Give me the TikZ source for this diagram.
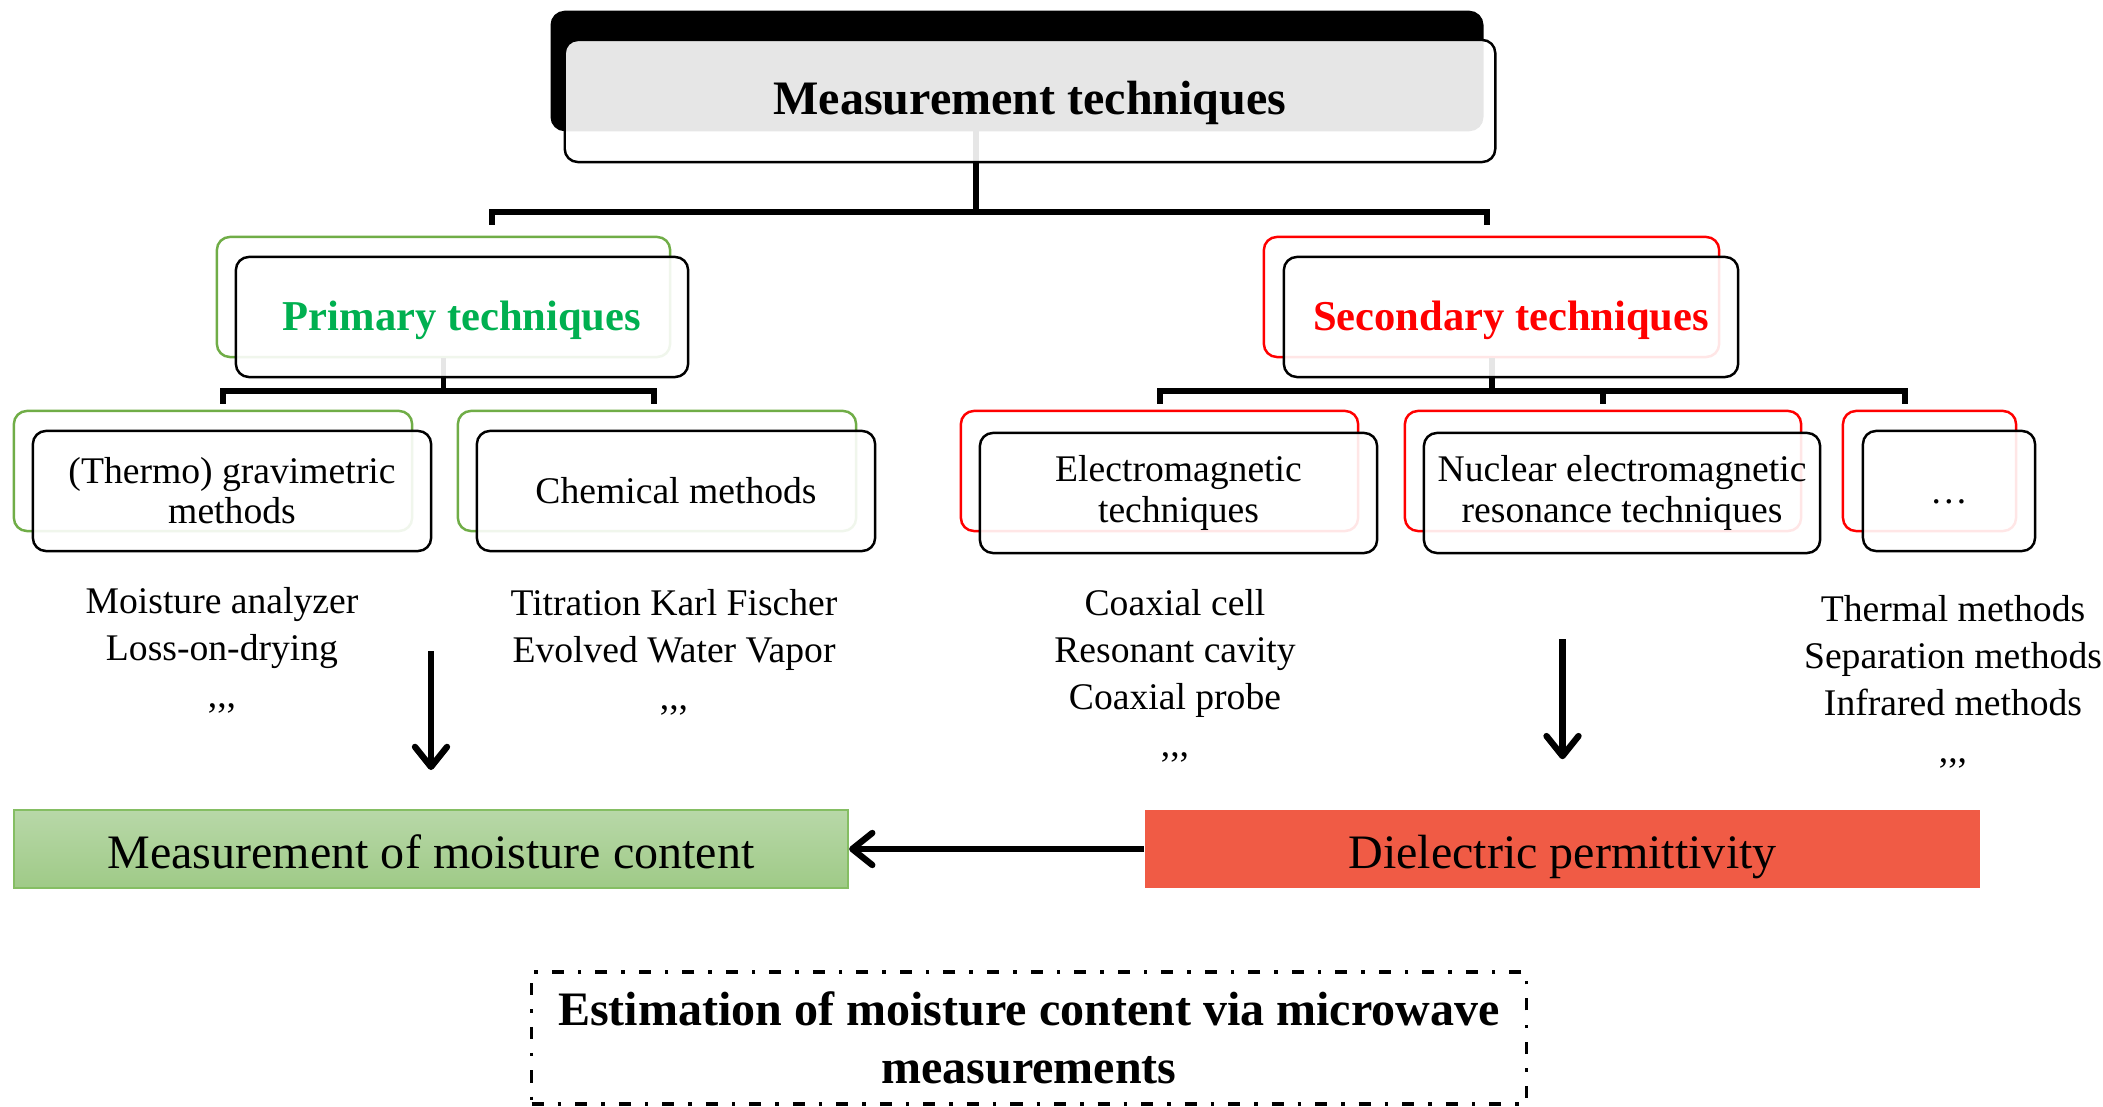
\documentclass[tikz,border=0pt]{standalone}
\usepackage{fontspec}
\setmainfont{Liberation Serif}
\usetikzlibrary{arrows.meta}
\definecolor{grn}{HTML}{70AD47}
\definecolor{grntext}{HTML}{00B050}
\definecolor{grntop}{HTML}{B8D8A8}
\definecolor{grnbot}{HTML}{9FCA87}
\definecolor{grnline}{HTML}{85BE63}
\definecolor{coral}{HTML}{F05B45}
\tikzset{
  back/.style={line width=0.7pt, rounded corners=0.13cm, fill=white, inner sep=0pt},
  front/.style={draw=black, line width=0.7pt, rounded corners=0.13cm, fill=white,
    fill opacity=0.9, text opacity=1, align=center, inner sep=0pt,
    font=\fontsize{10.7}{11.4}\selectfont},
  heading/.style={text height=0.38cm, text depth=0.1cm},
  tree/.style={line width=1.7pt},
  arr/.style={line width=1.8pt, -{Straight Barb[length=0.2cm,width=0.32cm,round]}},
  list/.style={align=center, font=\fontsize{10.7}{13.4}\selectfont},
  bottombox/.style={minimum width=8.34cm, minimum height=0.78cm, inner sep=0pt,
    text height=0.48cm, text depth=0.1cm, font=\fontsize{13.66}{15}\selectfont}
}
\begin{document}
\begin{tikzpicture}[x=0.01cm,y=-0.01cm]
  \useasboundingbox (0,0) rectangle (2103,1107);
  \node[back, draw=black, fill=black, minimum width=9.3cm, minimum height=1.18cm] (topb) at (1017,71) {};
  \node[back, draw=grn, minimum width=4.53cm, minimum height=1.2cm] (primb) at (443.5,297) {};
  \node[back, draw=red, minimum width=4.55cm, minimum height=1.2cm] (secb) at (1491.5,297) {};
  \node[back, draw=grn, minimum width=3.98cm, minimum height=1.2cm] (thb) at (213,471) {};
  \node[back, draw=grn, minimum width=3.98cm, minimum height=1.2cm] (chb) at (657,471) {};
  \node[back, draw=red, minimum width=3.97cm, minimum height=1.2cm] (emb) at (1159.5,471) {};
  \node[back, draw=red, minimum width=3.96cm, minimum height=1.2cm] (nucb) at (1603,471) {};
  \node[back, draw=red, minimum width=1.73cm, minimum height=1.2cm] (dotb) at (1929.5,471) {};
  \draw[tree] ([xshift=-0.41cm]topb.south) -- ++(0,81) -| ([xshift=0.485cm,yshift=0.11cm]primb.north);
  \draw[tree] ([xshift=-0.41cm]topb.south) ++(0,81) -| ([xshift=-0.045cm,yshift=0.11cm]secb.north);
  \draw[tree] (primb.south) -- ++(0,33) -| ([xshift=0.1cm,yshift=0.06cm]thb.north);
  \draw[tree] (primb.south) ++(0,33) -| ([xshift=-0.03cm,yshift=0.06cm]chb.north);
  \draw[tree] (secb.south) -- ++(0,33) -| ([yshift=0.06cm]emb.north);
  \draw[tree] (secb.south) ++(0,33) -| ([yshift=0.06cm]nucb.north);
  \draw[tree] (secb.south) ++(0,33) -| ([xshift=-0.245cm,yshift=0.06cm]dotb.north);
  \node[front, heading, minimum width=9.3cm, minimum height=1.22cm, font=\fontsize{13.66}{15}\selectfont\bfseries] (top) at (1030,101) {Measurement techniques};
  \node[front, heading, minimum width=4.52cm, minimum height=1.2cm, text=grntext, font=\fontsize{12.1}{14}\selectfont\bfseries] (prim) at (462,317) {Primary techniques};
  \node[front, heading, minimum width=4.54cm, minimum height=1.2cm, text=red, font=\fontsize{12.1}{14}\selectfont\bfseries] (sec) at (1511,317) {Secondary techniques};
  \node[front, minimum width=3.98cm, minimum height=1.2cm] (th) at (232,491) {(Thermo) gravimetric\\methods};
  \node[front, minimum width=3.98cm, minimum height=1.2cm] (ch) at (676,491) {Chemical methods};
  \node[front, minimum width=3.97cm, minimum height=1.2cm] (em) at (1178.5,493) {Electromagnetic\\techniques};
  \node[front, minimum width=3.96cm, minimum height=1.2cm] (nuc) at (1622,493) {Nuclear electromagnetic\\resonance techniques};
  \node[front, minimum width=1.72cm, minimum height=1.2cm, text height=0.26cm, text depth=0pt] (dots) at (1949,491) {\dots};
  \node[list] (thlist) at (222,650) {Moisture analyzer\\Loss-on-drying\\{,}{,}{,}};
  \node[list] (chlist) at (674,652) {Titration Karl Fischer\\Evolved Water Vapor\\{,}{,}{,}};
  \node[list] (emlist) at (1175,676) {Coaxial cell\\Resonant cavity\\Coaxial probe\\{,}{,}{,}};
  \node[list] (otherlist) at (1953,682) {Thermal methods\\Separation methods\\Infrared methods\\{,}{,}{,}};
  \node[bottombox, top color=grntop, bottom color=grnbot, draw=grnline, line width=0.5pt] (mc) at (431,849) {Measurement of moisture content};
  \node[bottombox, fill=coral, minimum width=8.35cm] (dp) at (1562.5,849) {Dielectric permittivity};
  \draw[arr] ([yshift=1.58cm]mc.north) -- ([yshift=0.39cm]mc.north);
  \draw[arr] ([yshift=1.7cm]dp.north) -- ([yshift=0.5cm]dp.north);
  \draw[arr] (dp.west) -- (mc.east);
  \node[draw, line width=0.9pt, dash pattern=on 0.12cm off 0.14cm on 0.035cm off 0.14cm,
    minimum width=9.94cm, minimum height=1.32cm, align=center, inner sep=0pt,
    font=\fontsize{13.66}{16.5}\selectfont\bfseries] (est) at (1029,1038)
    {Estimation of moisture content via microwave\\measurements};
\end{tikzpicture}
\end{document}
